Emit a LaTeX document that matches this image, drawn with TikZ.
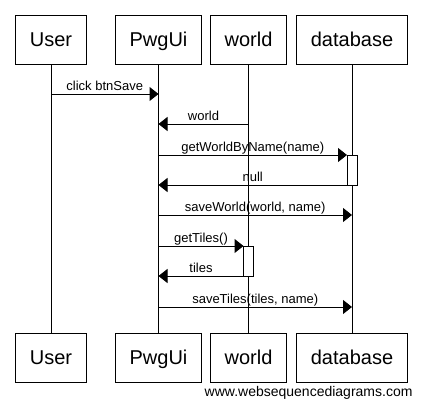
\documentclass[tikz,border=0pt]{standalone}
\usepackage{fontspec}
\setmainfont{Liberation Sans}
\usetikzlibrary{arrows.meta}
\usetikzlibrary{calc}

\begin{document}
\begin{tikzpicture}[x=1pt,y=-1pt,line width=1pt,
		party/.style={draw,fill=white,font=\fontsize{20}{24}\selectfont,inner xsep=14pt,inner ysep=15.5pt,text height=15.5pt,text depth=2.5pt,outer sep=0pt},
		act/.style={draw,fill=white,minimum width=10pt,minimum height=30pt,inner sep=0pt,outer sep=0pt},
		msg/.style={-{Triangle[length=9pt,width=14pt]},black},
		lbl/.style={midway,anchor=base,yshift=3.5pt,inner sep=0pt,font=\fontsize{13}{15}\selectfont}]
			\fill [white] (0,0) rectangle (423,407);
			\useasboundingbox (0,0) rectangle (423,407);
			\node [party] (user) at (51,39.5) {User};
			\node [party] (pwgui) at (158.5,39.5) {PwgUi};
			\node [party] (world) at (248.5,39.5) {world};
			\node [party] (db) at (352,39.5) {database};
			\node [party] (userB) at (51,357.5) {User};
			\node [party] (pwguiB) at (158.5,357.5) {PwgUi};
			\node [party] (worldB) at (248.5,357.5) {world};
			\node [party] (dbB) at (352,357.5) {database};
			\draw (user) -- (userB);
			\draw (pwgui) -- (pwguiB);
			\draw (world) -- (worldB);
			\draw (db) -- (dbB);
			\node [act] (dbact) at (352,170) {};
			\node [act] (worldact) at (248.5,261) {};
			\draw [msg] (user |- 0,94) -- node [lbl] {click btnSave} (pwgui |- 0,94);
			\draw [msg] (world |- 0,124) -- node [lbl] {world} (pwgui |- 0,124);
			\draw [msg] (pwgui |- dbact.north west) -- node [lbl] {getWorldByName(name)} (dbact.north west);
			\draw [msg] (dbact.south west) -- node [lbl] {null} (pwgui |- dbact.south west);
			\draw [msg] (pwgui |- 0,215) -- node [lbl] {saveWorld(world, name)} (db |- 0,215);
			\draw [msg] (pwgui |- worldact.north west) -- node [lbl] {getTiles()} (worldact.north west);
			\draw [msg] (worldact.south west) -- node [lbl] {tiles} (pwgui |- worldact.south west);
			\draw [msg] (pwgui |- 0,307) -- node [lbl] {saveTiles(tiles, name)} (db |- 0,307);
			\node [anchor=base east,inner sep=0pt,font=\fontsize{14}{17}\selectfont] (site) at (413,396) {www.websequencediagrams.com};
		\end{tikzpicture}
\end{document}
